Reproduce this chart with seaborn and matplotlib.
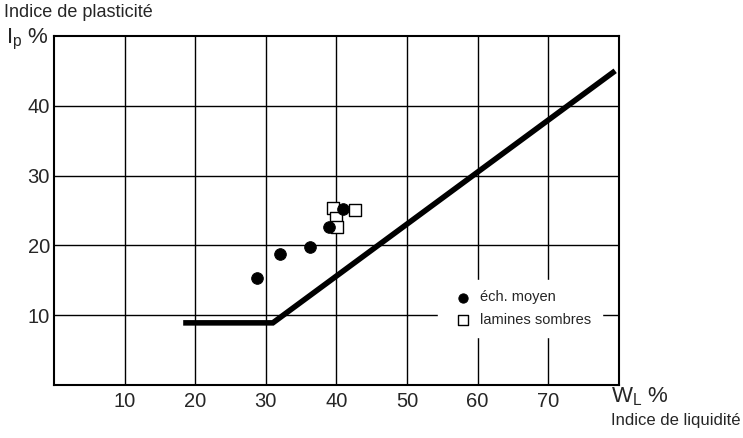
import numpy as np
import pandas as pd
import seaborn as sns
from matplotlib import pyplot as plt

# limite de liquidite / indice de plasticite
moyen_wl = [28.7, 32.0, 36.2, 38.9, 41.0]
moyen_ip = [15.3, 18.7, 19.7, 22.7, 25.2]
sombre_wl = [39.5, 40.0, 40.1, 42.6]
sombre_ip = [25.4, 23.9, 22.7, 25.1]

# ligne A
ligne_wl = [18.3, 31.0, 79.5]
ligne_ip = [8.9, 8.9, 45.0]

xticks = [10, 20, 30, 40, 50, 60, 70]
yticks = [10, 20, 30, 40]

sns.set_style("white")
plt.rcParams["font.family"] = ["Liberation Sans", "DejaVu Sans"]

fig = plt.figure(figsize=(7.43, 4.38), dpi=100)
ax = fig.add_axes([0.0727, 0.121, 0.76, 0.797])

df_m = pd.DataFrame({"wl": moyen_wl, "ip": moyen_ip})
df_s = pd.DataFrame({"wl": sombre_wl, "ip": sombre_ip})
df_a = pd.DataFrame({"wl": ligne_wl, "ip": ligne_ip})

sns.lineplot(data=df_a, x="wl", y="ip", ax=ax, color="black", linewidth=4,
             sort=False, zorder=3, solid_capstyle="butt", solid_joinstyle="miter")
sns.scatterplot(data=df_s, x="wl", y="ip", ax=ax, marker="s", s=75,
                facecolor="white", edgecolor="black", linewidth=1,
                label="lamines sombres", zorder=4)
sns.scatterplot(data=df_m, x="wl", y="ip", ax=ax, marker="o", s=70,
                color="black", edgecolor="black", label="éch. moyen", zorder=5)

ax.set_xlim(0, 80)
ax.set_ylim(0, 50)
ax.set_xticks(xticks)
ax.set_yticks(yticks)
ax.tick_params(length=0, labelsize=14.5, pad=5)
ax.tick_params(axis="y", pad=3)
ax.grid(True, color="black", linewidth=1)
ax.set_axisbelow(True)
for sp in ax.spines.values():
    sp.set_visible(True)
    sp.set_color("black")
    sp.set_linewidth(1.5)
ax.set_xlabel("")
ax.set_ylabel("")

h, l = ax.get_legend_handles_labels()
leg = ax.legend(h[::-1], l[::-1], loc="upper left", bbox_to_anchor=(0.68, 0.3),
                frameon=True, fontsize=10.5, handletextpad=0.2, borderpad=0.7,
                labelspacing=0.6, markerscale=0.8, borderaxespad=0)
leg.get_frame().set_edgecolor("white")
leg.get_frame().set_facecolor("white")
leg.get_frame().set_alpha(1)

fig.text(0.006, 0.972, "Indice de plasticité", fontsize=13, va="center", ha="left")
fig.text(0.008, 0.91, r"$\mathregular{I_p}$ %", fontsize=16, va="center", ha="left")
fig.text(0.822, 0.095, r"$\mathregular{W_L}$ %", fontsize=16, va="center", ha="left")
fig.text(0.997, 0.04, "Indice de liquidité", fontsize=12, va="center", ha="right")

fig.savefig("out.png", dpi=100)
